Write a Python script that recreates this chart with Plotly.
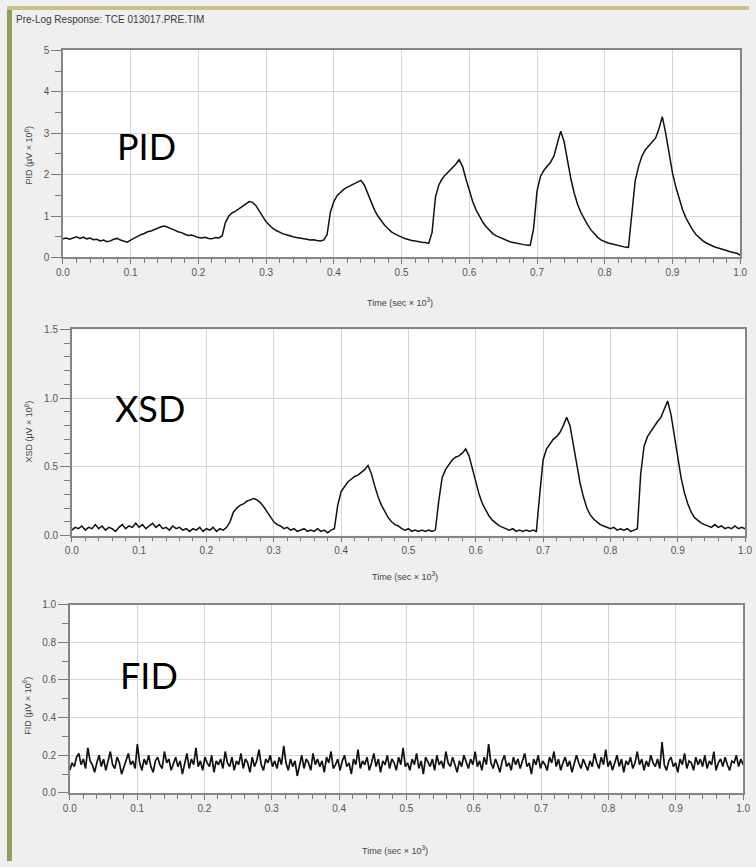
import numpy as np
import plotly.graph_objects as go

# ---------------- data ----------------
title_text = "Pre-Log Response: TCE 013017.PRE.TIM"
panel_names = ["PID", "XSD", "FID"]
y_titles = ["PID (µV × 10<sup>6</sup>)", "XSD (µV × 10<sup>6</sup>)", "FID (µV × 10<sup>6</sup>)"]
x_title = "Time (sec × 10<sup>3</sup>)"
x_ticks = [0.0, 0.1, 0.2, 0.3, 0.4, 0.5, 0.6, 0.7, 0.8, 0.9, 1.0]

# PID response, sampled every 0.005 (time in sec x 10^3)
pid_values = [
    0.45, 0.47, 0.44, 0.48, 0.50, 0.46, 0.49, 0.45, 0.47, 0.43,
    0.44, 0.40, 0.42, 0.38, 0.40, 0.44, 0.46, 0.42, 0.39, 0.37,
    0.42, 0.47, 0.52, 0.55, 0.58, 0.62, 0.64, 0.68, 0.70, 0.74,
    0.76, 0.73, 0.70, 0.66, 0.62, 0.60, 0.56, 0.53, 0.54, 0.50,
    0.48, 0.47, 0.49, 0.46, 0.45, 0.48, 0.47, 0.52, 0.85, 1.00,
    1.08, 1.12, 1.18, 1.22, 1.28, 1.35, 1.33, 1.25, 1.12, 0.98,
    0.86, 0.78, 0.70, 0.65, 0.60, 0.57, 0.55, 0.52, 0.50, 0.48,
    0.47, 0.45, 0.44, 0.42, 0.43, 0.41, 0.40, 0.42, 0.55, 1.10,
    1.35, 1.50, 1.58, 1.65, 1.70, 1.74, 1.78, 1.82, 1.86, 1.75,
    1.55, 1.32, 1.15, 1.00, 0.88, 0.78, 0.70, 0.62, 0.57, 0.52,
    0.49, 0.46, 0.43, 0.41, 0.40, 0.38, 0.37, 0.36, 0.34, 0.60,
    1.45, 1.75, 1.90, 2.00, 2.08, 2.15, 2.25, 2.36, 2.20, 1.90,
    1.60, 1.35, 1.15, 0.98, 0.85, 0.74, 0.65, 0.57, 0.52, 0.48,
    0.44, 0.40, 0.38, 0.36, 0.34, 0.33, 0.31, 0.30, 0.29, 0.70,
    1.60, 1.95, 2.10, 2.20, 2.30, 2.45, 2.75, 3.05, 2.80, 2.30,
    1.90, 1.55, 1.28, 1.08, 0.92, 0.78, 0.66, 0.56, 0.48, 0.42,
    0.38, 0.35, 0.33, 0.31, 0.28, 0.26, 0.25, 0.24, 1.00, 1.85,
    2.20, 2.45, 2.60, 2.70, 2.78, 2.88, 3.10, 3.40, 3.00, 2.50,
    2.05, 1.70, 1.40, 1.15, 0.95, 0.80, 0.66, 0.55, 0.47, 0.40,
    0.35, 0.30, 0.27, 0.24, 0.22, 0.19, 0.17, 0.14, 0.12, 0.10,
    0.06,
]

# XSD response, sampled every 0.005
xsd_values = [
    0.04, 0.06, 0.05, 0.07, 0.04, 0.06, 0.05, 0.08, 0.05, 0.07,
    0.04, 0.06, 0.05, 0.03, 0.06, 0.08, 0.05, 0.07, 0.06, 0.09,
    0.06, 0.08, 0.05, 0.07, 0.09, 0.06, 0.08, 0.05, 0.06, 0.04,
    0.07, 0.05, 0.06, 0.04, 0.05, 0.03, 0.05, 0.04, 0.06, 0.03,
    0.05, 0.04, 0.06, 0.03, 0.05, 0.04, 0.06, 0.10, 0.17, 0.20,
    0.22, 0.23, 0.25, 0.26, 0.27, 0.26, 0.24, 0.21, 0.17, 0.13,
    0.10, 0.08, 0.07, 0.05, 0.06, 0.04, 0.05, 0.03, 0.04, 0.05,
    0.03, 0.04, 0.03, 0.05, 0.03, 0.04, 0.02, 0.04, 0.05, 0.22,
    0.32, 0.36, 0.39, 0.41, 0.43, 0.44, 0.46, 0.48, 0.51, 0.45,
    0.36, 0.28, 0.22, 0.17, 0.13, 0.10, 0.08, 0.07, 0.05, 0.04,
    0.05, 0.03, 0.04, 0.03, 0.04, 0.03, 0.04, 0.03, 0.04, 0.25,
    0.42, 0.48, 0.52, 0.55, 0.57, 0.58, 0.60, 0.63, 0.58, 0.48,
    0.38, 0.30, 0.23, 0.18, 0.14, 0.11, 0.09, 0.07, 0.06, 0.05,
    0.04, 0.05, 0.03, 0.04, 0.03, 0.04, 0.03, 0.04, 0.03, 0.30,
    0.55, 0.63, 0.67, 0.70, 0.72, 0.75, 0.80, 0.86, 0.80, 0.65,
    0.50, 0.38, 0.28, 0.20, 0.15, 0.12, 0.10, 0.08, 0.07, 0.06,
    0.05, 0.06, 0.04, 0.05, 0.04, 0.05, 0.03, 0.04, 0.05, 0.45,
    0.65, 0.72, 0.76, 0.80, 0.83, 0.86, 0.92, 0.98, 0.88, 0.72,
    0.56, 0.42, 0.31, 0.23, 0.17, 0.13, 0.11, 0.09, 0.08, 0.07,
    0.06, 0.08, 0.06, 0.07, 0.05, 0.06, 0.05, 0.07, 0.05, 0.06,
    0.05,
]

# FID response (noise only)
fid_values = [
    0.12, 0.16, 0.14, 0.19, 0.21, 0.15, 0.18, 0.13, 0.24, 0.17,
    0.15, 0.11, 0.16, 0.20, 0.14, 0.18, 0.12, 0.17, 0.22, 0.15,
    0.13, 0.19, 0.16, 0.10, 0.14, 0.18, 0.21, 0.15, 0.17, 0.13,
    0.26, 0.16, 0.12, 0.18, 0.15, 0.20, 0.14, 0.11, 0.17, 0.19,
    0.15, 0.13, 0.22, 0.16, 0.18, 0.12, 0.15, 0.19, 0.14, 0.17,
    0.10, 0.16, 0.21, 0.13, 0.18, 0.15, 0.24, 0.14, 0.17, 0.12,
    0.19, 0.16, 0.14, 0.20, 0.11, 0.17, 0.15, 0.18, 0.13, 0.22,
    0.16, 0.14, 0.19, 0.12, 0.17, 0.15, 0.21, 0.13, 0.18, 0.16,
    0.11, 0.19, 0.14, 0.17, 0.23, 0.15, 0.12, 0.18, 0.16, 0.20,
    0.14, 0.17, 0.13, 0.19, 0.15, 0.25, 0.16, 0.12, 0.18, 0.14,
    0.17, 0.09, 0.15, 0.20, 0.13, 0.18, 0.16, 0.12, 0.21, 0.15,
    0.18, 0.14, 0.17, 0.11, 0.19, 0.16, 0.22, 0.13, 0.15, 0.18,
    0.12, 0.17, 0.20, 0.14, 0.16, 0.10, 0.18, 0.15, 0.23, 0.13,
    0.17, 0.15, 0.19, 0.12, 0.16, 0.21, 0.14, 0.18, 0.11, 0.17,
    0.15, 0.20, 0.13, 0.18, 0.16, 0.12, 0.19, 0.15, 0.24, 0.14,
    0.16, 0.12, 0.18, 0.15, 0.21, 0.13, 0.17, 0.10, 0.19, 0.16,
    0.14, 0.18, 0.12, 0.20, 0.15, 0.17, 0.13, 0.22, 0.16, 0.14,
    0.19, 0.15, 0.11, 0.17, 0.14, 0.20, 0.16, 0.13, 0.18, 0.15,
    0.22, 0.14, 0.17, 0.12, 0.19, 0.15, 0.26, 0.16, 0.13, 0.18,
    0.15, 0.11, 0.17, 0.20, 0.14, 0.16, 0.12, 0.19, 0.15, 0.18,
    0.13, 0.17, 0.21, 0.14, 0.16, 0.10, 0.18, 0.15, 0.20, 0.13,
    0.17, 0.15, 0.12, 0.19, 0.16, 0.22, 0.14, 0.18, 0.12, 0.16,
    0.19, 0.14, 0.17, 0.11, 0.15, 0.20, 0.16, 0.13, 0.18, 0.15,
    0.12, 0.17, 0.14, 0.21, 0.16, 0.13, 0.19, 0.15, 0.23, 0.14,
    0.17, 0.12, 0.16, 0.20, 0.14, 0.18, 0.11, 0.17, 0.15, 0.19,
    0.13, 0.16, 0.22, 0.15, 0.18, 0.12, 0.17, 0.14, 0.20, 0.16,
    0.14, 0.18, 0.13, 0.27, 0.15, 0.12, 0.17, 0.19, 0.14, 0.16,
    0.11, 0.18, 0.15, 0.21, 0.13, 0.17, 0.16, 0.12, 0.19, 0.15,
    0.18, 0.14, 0.20, 0.13, 0.17, 0.15, 0.22, 0.12, 0.16, 0.18,
    0.14, 0.19, 0.15, 0.12, 0.17, 0.16, 0.20, 0.14, 0.18, 0.15,
]

pid_time = np.linspace(0.0, 1.0, len(pid_values))
xsd_time = np.linspace(0.0, 1.0, len(xsd_values))
fid_time = np.linspace(0.0, 1.0, len(fid_values))

# ---------------- figure ----------------
W, H = 756, 867
fig = go.Figure()

series = [(pid_time, pid_values, 1.5), (xsd_time, xsd_values, 1.5), (fid_time, fid_values, 1.7)]
for i, (t, v, lw) in enumerate(series):
    sfx = "" if i == 0 else str(i + 1)
    fig.add_trace(go.Scatter(x=t, y=v, mode="lines",
                             line=dict(color="#111111", width=lw),
                             xaxis="x" + sfx, yaxis="y" + sfx,
                             showlegend=False, hoverinfo="skip"))

def px_x(p):
    return p / W

def px_y(p):
    return 1 - p / H

# panel pixel boxes: (left, right, top, bottom)
boxes = [(57, 747, 45, 255), (66, 752, 328, 537), (64, 750, 607, 798)]
yranges = [[0, 5], [0, 1.5], [0, 1.0]]
ydticks = [1, 0.5, 0.2]
yminor = [0.5, 0.1, 0.1]
yfmt = ["d", ".1f", ".1f"]

tickfont = dict(family="Liberation Sans, Arial", size=10, color="#555555")
axis_common = dict(showline=True, linecolor="#858585", linewidth=1.5, mirror=True,
                   showgrid=True, gridcolor="#d6d6d6", gridwidth=1,
                   zeroline=False, ticks="outside", tickcolor="#7a7a7a",
                   tickfont=tickfont, fixedrange=True)

layout = dict(width=W, height=H, margin=dict(l=0, r=0, t=0, b=0),
              paper_bgcolor="#efefef", plot_bgcolor="#ffffff",
              showlegend=False)

for i, (l, r, t, b) in enumerate(boxes):
    sfx = "" if i == 0 else str(i + 1)
    layout["xaxis" + sfx] = dict(
        axis_common, domain=[px_x(l), px_x(r)], range=[0, 1],
        anchor="y" + sfx, tickvals=x_ticks, tickformat=".1f", ticklen=5,
        minor=dict(dtick=0.02, ticks="outside", ticklen=4, tickcolor="#7a7a7a", showgrid=False))
    layout["yaxis" + sfx] = dict(
        axis_common, domain=[px_y(b), px_y(t)], range=yranges[i],
        anchor="x" + sfx, dtick=ydticks[i], tickformat=yfmt[i], ticklen=10,
        minor=dict(dtick=yminor[i], ticks="outside", ticklen=6, tickcolor="#7a7a7a", showgrid=False))

fig.update_layout(**layout)

annotations = []
# chart title
annotations.append(dict(text=title_text, x=px_x(7), y=px_y(14), xref="paper", yref="paper",
                        xanchor="left", yanchor="middle", showarrow=False,
                        font=dict(family="Liberation Sans, Arial", size=10, color="#3a3a3a")))
# big panel labels
label_pos = [(110, 142), (108, 408), (113, 678)]
for name, (lx, ly) in zip(panel_names, label_pos):
    annotations.append(dict(text=name, x=px_x(lx), y=px_y(ly), xref="paper", yref="paper",
                            xanchor="left", yanchor="middle", showarrow=False,
                            font=dict(family="Lato, Open Sans", size=36, color="#000000")))
# x-axis titles
xt_pos = [(400, 300), (405, 578), (395, 856)]
for (tx, ty) in xt_pos:
    annotations.append(dict(text=x_title, x=px_x(tx), y=px_y(ty), xref="paper", yref="paper",
                            xanchor="center", yanchor="middle", showarrow=False,
                            font=dict(family="Liberation Sans, Arial", size=9, color="#444444")))
# y-axis titles
yt_pos = [(22, 152), (22, 432), (21, 710)]
for txt, (tx, ty) in zip(y_titles, yt_pos):
    annotations.append(dict(text=txt, x=px_x(tx), y=px_y(ty), xref="paper", yref="paper",
                            xanchor="center", yanchor="middle", showarrow=False, textangle=-90,
                            font=dict(family="Liberation Sans, Arial", size=9, color="#444444")))

fig.update_layout(annotations=annotations)

# window frame: green left band, tan top band
fig.update_layout(shapes=[
    dict(type="rect", xref="paper", yref="paper", x0=0, x1=px_x(5), y0=0, y1=1,
         fillcolor="#8e9d56", line=dict(width=0), layer="above"),
    dict(type="rect", xref="paper", yref="paper", x0=0, x1=1, y0=px_y(4), y1=1,
         fillcolor="#c9c08e", line=dict(width=0), layer="above"),
])

post = (
    "document.documentElement.style.margin='0';"
    "document.documentElement.style.padding='0';"
    "document.body.style.margin='0';"
    "document.body.style.padding='0';"
    "document.body.style.overflow='hidden';"
    "var gd=document.getElementById('{plot_id}');"
    "gd.style.position='fixed';gd.style.left='0px';gd.style.top='0px';"
)
fig.write_html("out.html", config={"displayModeBar": False}, post_script=post)
